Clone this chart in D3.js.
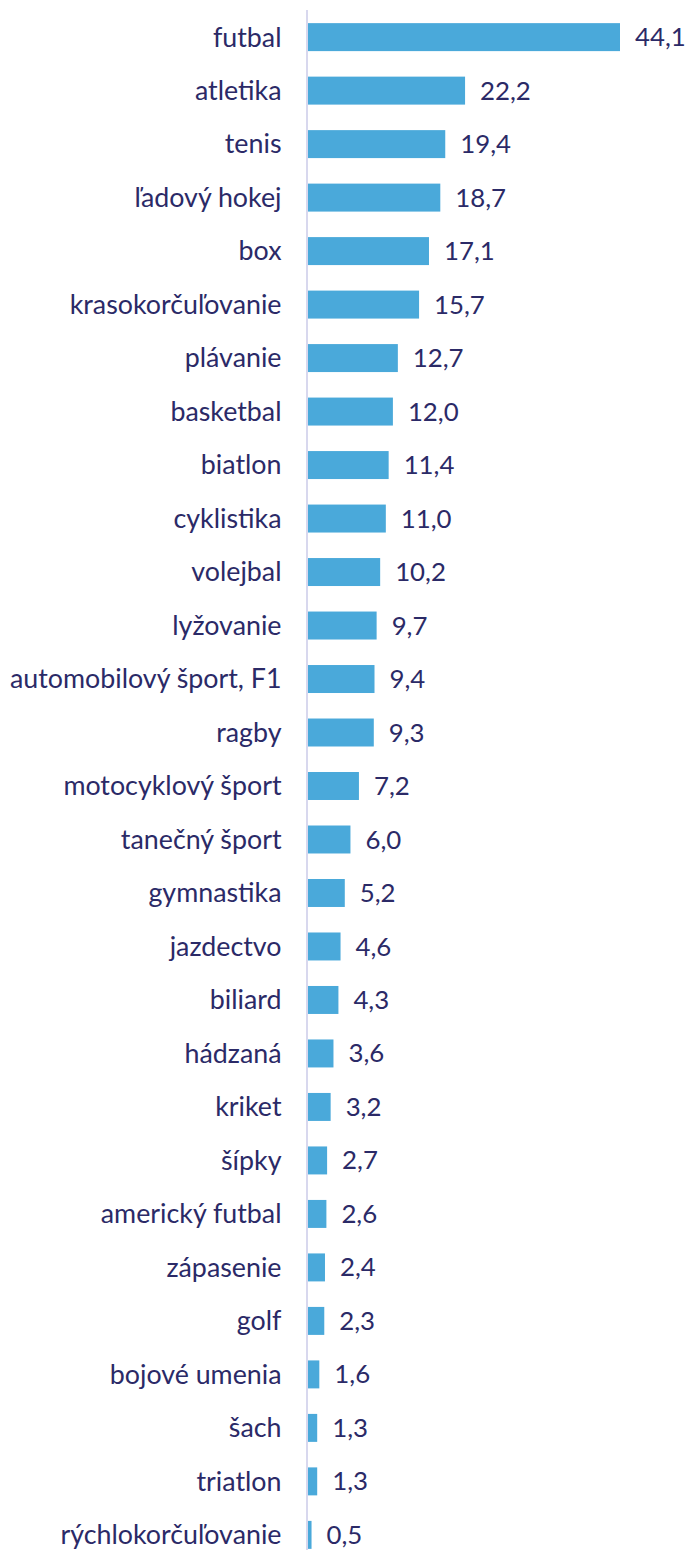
<!DOCTYPE html>
<html><head><meta charset="utf-8">
<script src="https://cdn.jsdelivr.net/npm/d3@7"></script>
<style>body{margin:0;background:#fff}svg{display:block}</style>
</head><body>
<svg id="c" width="688" height="1550"></svg>
<script>
const categories = ["futbal","atletika","tenis","ľadový hokej","box","krasokorčuľovanie","plávanie","basketbal","biatlon","cyklistika","volejbal","lyžovanie","automobilový šport, F1","ragby","motocyklový šport","tanečný šport","gymnastika","jazdectvo","biliard","hádzaná","kriket","šípky","americký futbal","zápasenie","golf","bojové umenia","šach","triatlon","rýchlokorčuľovanie"];
const values = [44.1,22.2,19.4,18.7,17.1,15.7,12.7,12.0,11.4,11.0,10.2,9.7,9.4,9.3,7.2,6.0,5.2,4.6,4.3,3.6,3.2,2.7,2.6,2.4,2.3,1.6,1.3,1.3,0.5];

const svg = d3.select("#c");
const x0 = 308;
const x = d3.scaleLinear().domain([0,44.1]).range([x0,620]);
const y = d3.scaleBand().domain(categories).range([10.3,1561.7]).paddingInner(0.477).paddingOuter(0.24);
const fmt = v => d3.format(".1f")(v).replace(".",",");
const font = "Lato, 'Noto Sans', sans-serif";
const textColor = "#2b2a67";

svg.append("line").attr("x1",307).attr("x2",307).attr("y1",10).attr("y2",1550)
  .attr("stroke","#d8d8ee").attr("stroke-width",2);

svg.selectAll("rect.bar").data(values).join("rect").attr("class","bar")
  .attr("x",x0).attr("y",(d,i)=>y(categories[i]))
  .attr("width",d=>x(d)-x0).attr("height",y.bandwidth())
  .attr("fill","#4aa9da");

svg.selectAll("text.cat").data(categories).join("text").attr("class","cat")
  .attr("x",281.5).attr("y",d=>y(d)+y.bandwidth()/2).attr("dy","0.35em")
  .attr("text-anchor","end").attr("font-family",font).attr("font-size",26.8)
  .attr("fill",textColor).text(d=>d);

svg.selectAll("text.val").data(values).join("text").attr("class","val")
  .attr("x",d=>x(d)+15).attr("y",(d,i)=>y(categories[i])+y.bandwidth()/2).attr("dy","0.35em")
  .attr("font-family",font).attr("font-size",25.8)
  .attr("fill",textColor).text(d=>fmt(d));
</script>
</body></html>
